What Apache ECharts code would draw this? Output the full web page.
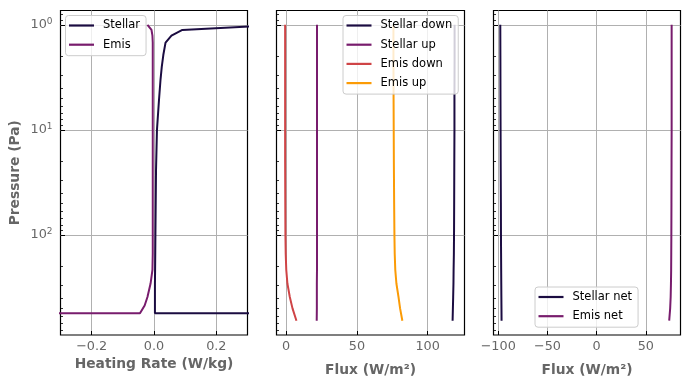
<!DOCTYPE html>
<html>
<head>
<meta charset="utf-8">
<script src="https://cdn.jsdelivr.net/npm/echarts@6/dist/echarts.min.js"></script>
<style>html,body{margin:0;padding:0;background:#fff}#c{width:690px;height:390px}</style>
</head>
<body>
<div id="c"></div>
<script>
// ---- data ----
const pressureLayers = [1.0, 1.12, 1.27, 1.48, 1.93, 2.5, 3.3, 5.2, 10, 24, 100, 150, 215, 290, 390, 470, 557, 600];
const stellarHeating = [0.40, 0.091, 0.056, 0.037, 0.030, 0.025, 0.021, 0.016, 0.0095, 0.0065, 0.0045, 0.004, 0.0035, 0.003, 0.003, 0.003, 0.003, 60];
const emisHeating = [-0.021, -0.008, -0.005, -0.004, -0.004, -0.004, -0.004, -0.004, -0.004, -0.004, -0.004, -0.004, -0.005, -0.011, -0.021, -0.03, -0.045, -60];

const pressureLevels = [1.0, 2, 5, 10, 20, 50, 100, 150, 215, 290, 390, 500, 655];
const stellarDown = [119.0, 119.0, 118.9, 118.9, 118.8, 118.7, 118.6, 118.5, 118.3, 118.2, 118.0, 117.8, 117.6];
const stellarUp = [21.8, 21.8, 21.8, 21.8, 21.8, 21.8, 21.8, 21.8, 21.8, 21.7, 21.7, 21.7, 21.6];
const emisDown = [-0.7, -0.7, -0.7, -0.7, -0.7, -0.6, -0.5, -0.3, 0.1, 0.9, 2.6, 4.5, 7.3];
const emisUp = [75.8, 75.8, 75.9, 76.0, 76.1, 76.3, 76.5, 76.7, 77.1, 77.9, 79.4, 80.5, 82.1];
const stellarNet = [-97.9, -97.8, -97.7, -97.6, -97.5, -97.3, -97.2, -97.1, -97.0, -96.9, -96.8, -96.7, -96.6];
const emisNet = [76.3, 76.3, 76.3, 76.3, 76.2, 76.1, 76.0, 75.9, 75.8, 75.6, 75.3, 74.8, 73.8];

const heatTicks = [-0.2, 0.0, 0.2];
const fluxTicks = [0, 50, 100];
const netTicks = [-100, -50, 0, 50];
const pressureTicks = [1, 10, 100];
const pressureMinorTicks = [0.8, 0.9, 2, 3, 4, 5, 6, 7, 8, 9, 20, 30, 40, 50, 60, 70, 80, 90, 200, 300, 400, 500, 600, 700, 800];

// ---- styling ----
const C_STELLAR = '#1b0c41', C_PURPLE = '#781c6d', C_RED = '#cf4446', C_ORANGE = '#fb9b06';
const GRAY = '#666666';
const FONT = 'DejaVu Sans';
const grids = [
  {left: 60.5, top: 10.5, width: 187, height: 324.5},
  {left: 276.5, top: 10.5, width: 188, height: 324.5},
  {left: 493.5, top: 10.5, width: 187, height: 324.5}
];
const xRanges = [[-0.3, 0.3], [-6.8, 126], [-104.8, 85.3]];
const xTicks = [heatTicks, fluxTicks, netTicks];
const xDec = [1, 0, 0];
const xNames = ['Heating Rate (W/kg)', 'Flux (W/m²)', 'Flux (W/m²)'];
const xNameGaps = [21.5, 28, 28];
const xSplit = [3, 3, 4];

const pair = (xs, ps) => xs.map((v, i) => [v, ps[i]]);

const option = {
  animation: false,
  backgroundColor: '#fff',
  grid: grids.map(g => Object.assign({show: true, borderColor: '#000', borderWidth: 1.2, backgroundColor: 'transparent'}, g)),
  xAxis: grids.map((g, i) => ({
    type: 'value', gridIndex: i, min: xRanges[i][0], max: xRanges[i][1], splitNumber: xSplit[i], position: 'bottom',
    name: xNames[i], nameLocation: 'middle', nameGap: xNameGaps[i],
    nameTextStyle: {color: GRAY, fontFamily: FONT, fontWeight: 'bold', fontSize: 13.8},
    axisLine: {show: false, onZero: false},
    axisTick: {show: true, inside: true, length: 4, customValues: xTicks[i], lineStyle: {color: '#000', width: 1}},
    axisLabel: {show: true, margin: 5, color: GRAY, fontFamily: FONT, fontSize: 12.8, customValues: xTicks[i],
      formatter: v => (v < 0 ? '−' : '') + Math.abs(v).toFixed(xDec[i])},
    splitLine: {show: true, lineStyle: {color: '#b0b0b0', width: 1}}
  })),
  yAxis: [].concat(
    grids.map((g, i) => ({
      type: 'log', gridIndex: i, min: 0.731, max: 896, inverse: true, logBase: 10, position: 'left',
      name: i === 0 ? 'Pressure (Pa)' : '', nameLocation: 'middle', nameGap: 38, nameRotate: 90,
      nameTextStyle: {color: GRAY, fontFamily: FONT, fontWeight: 'bold', fontSize: 13.8},
      axisLine: {show: false, onZero: false},
      axisTick: {show: true, inside: true, length: 4.5, customValues: pressureTicks, lineStyle: {color: '#000', width: 1}},
      axisLabel: {show: i === 0, margin: 8, color: GRAY, fontFamily: FONT, fontSize: 12.8, customValues: pressureTicks,
        formatter: v => '{b|10}{s|' + Math.round(Math.log10(v)) + '}',
        rich: {
          b: {fontSize: 12.8, fontFamily: FONT, color: GRAY, lineHeight: 16},
          s: {fontSize: 9, fontFamily: FONT, color: GRAY, lineHeight: 10, verticalAlign: 'top'}
        }},
      splitLine: {show: true, lineStyle: {color: '#b0b0b0', width: 1}}
    })),
    grids.map((g, i) => ({
      type: 'log', gridIndex: i, min: 0.731, max: 896, inverse: true, logBase: 10, position: 'left', offset: 0,
      axisLine: {show: false, onZero: false},
      axisTick: {show: true, inside: true, length: 2.5, customValues: pressureMinorTicks, lineStyle: {color: '#000', width: 0.8}},
      axisLabel: {show: false},
      splitLine: {show: false}
    }))
  ),
  legend: [
    {data: ['Stellar', 'Emis'], left: 65.5, top: 15.5, padding: [3, 6, 4, 3.5]},
    {data: ['Stellar down', 'Stellar up', 'Emis down', 'Emis up'], left: 343, top: 15.5, padding: [3, 6, 4, 3.5]},
    {data: ['Stellar net', 'Emis net'], left: 535, top: 287, padding: [3, 6, 4, 3.5]}
  ].map(l => Object.assign({
    orient: 'vertical', icon: 'rect', itemWidth: 25, itemHeight: 2.2, itemGap: 5.2,
    backgroundColor: 'rgba(255,255,255,0.8)', borderColor: '#cccccc', borderWidth: 1, borderRadius: 3,
    textStyle: {color: '#000', fontFamily: FONT, fontSize: 11.5, lineHeight: 14, padding: [0, 0, 0, 4]}
  }, l)),
  series: [
    {name: 'Stellar', xAxisIndex: 0, yAxisIndex: 0, data: pair(stellarHeating, pressureLayers), color: C_STELLAR},
    {name: 'Emis', xAxisIndex: 0, yAxisIndex: 0, data: pair(emisHeating, pressureLayers), color: C_PURPLE},
    {name: 'Stellar down', xAxisIndex: 1, yAxisIndex: 1, data: pair(stellarDown, pressureLevels), color: C_STELLAR},
    {name: 'Stellar up', xAxisIndex: 1, yAxisIndex: 1, data: pair(stellarUp, pressureLevels), color: C_PURPLE},
    {name: 'Emis down', xAxisIndex: 1, yAxisIndex: 1, data: pair(emisDown, pressureLevels), color: C_RED},
    {name: 'Emis up', xAxisIndex: 1, yAxisIndex: 1, data: pair(emisUp, pressureLevels), color: C_ORANGE},
    {name: 'Stellar net', xAxisIndex: 2, yAxisIndex: 2, data: pair(stellarNet, pressureLevels), color: C_STELLAR},
    {name: 'Emis net', xAxisIndex: 2, yAxisIndex: 2, data: pair(emisNet, pressureLevels), color: C_PURPLE}
  ].map(s => Object.assign({type: 'line', showSymbol: false, symbol: 'none', clip: true, lineStyle: {width: 2}}, s))
};

const chart = echarts.init(document.getElementById('c'), null, {renderer: 'canvas'});
chart.setOption(option);
</script>
</body>
</html>
